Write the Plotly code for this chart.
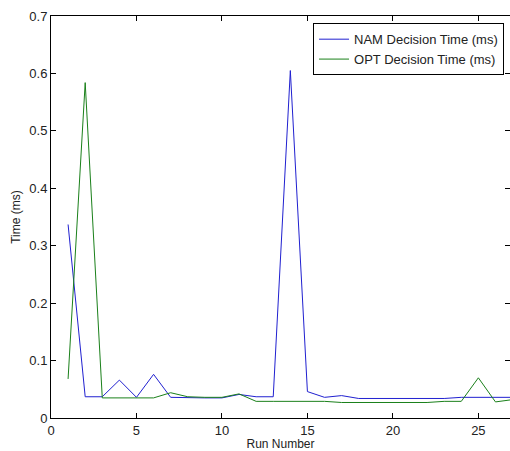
import plotly.graph_objects as go

run = list(range(1, 28))
nam = [0.337, 0.037, 0.037, 0.066, 0.036, 0.076, 0.036, 0.035, 0.035, 0.035,
       0.041, 0.037, 0.037, 0.605, 0.046, 0.036, 0.039, 0.034, 0.034, 0.034,
       0.034, 0.034, 0.034, 0.036, 0.036, 0.036, 0.036]
opt = [0.068, 0.584, 0.035, 0.035, 0.035, 0.035, 0.044, 0.037, 0.036, 0.036,
       0.042, 0.029, 0.029, 0.029, 0.029, 0.029, 0.027, 0.027, 0.027, 0.027,
       0.027, 0.027, 0.029, 0.029, 0.070, 0.028, 0.032]

xticks = [0, 5, 10, 15, 20, 25]
yticks = [0, 0.1, 0.2, 0.3, 0.4, 0.5, 0.6, 0.7]
ytick_labels = ["0", "0.1", "0.2", "0.3", "0.4", "0.5", "0.6", "0.7"]

fig = go.Figure()
fig.add_trace(go.Scatter(x=run, y=nam, mode="lines", name="NAM Decision Time (ms)",
                         line=dict(color="#2020d0", width=1)))
fig.add_trace(go.Scatter(x=run, y=opt, mode="lines", name="OPT Decision Time (ms)",
                         line=dict(color="#1a801a", width=1)))

font = dict(family="Liberation Sans, Arial, sans-serif", size=13, color="#222")
title_font = dict(family="Liberation Sans, Arial, sans-serif", size=12, color="#222")
fig.update_layout(
    width=510, height=451,
    margin=dict(l=51, r=0, t=16, b=33),
    paper_bgcolor="white", plot_bgcolor="white",
    font=font,
    showlegend=True,
    legend=dict(x=0.987, y=0.982, xanchor="right", yanchor="top",
                bgcolor="white", bordercolor="black", borderwidth=1,
                font=font, tracegroupgap=0),
)
fig.update_xaxes(range=[0, 26.85], tickvals=xticks, ticks="inside", ticklen=5,
                 tickcolor="black", showline=True, linecolor="black", linewidth=1,
                 mirror="ticks", showgrid=False, zeroline=False, automargin=False,
                 title=dict(text="Run Number", standoff=5, font=title_font))
fig.update_yaxes(range=[0, 0.7], tickvals=yticks, ticktext=ytick_labels, ticks="inside",
                 ticklen=5, tickcolor="black", showline=True, linecolor="black",
                 linewidth=1, mirror="ticks", showgrid=False, zeroline=False,
                 automargin=False,
                 title=dict(text="Time (ms)", standoff=6, font=title_font))

fig.write_html("out.html")
